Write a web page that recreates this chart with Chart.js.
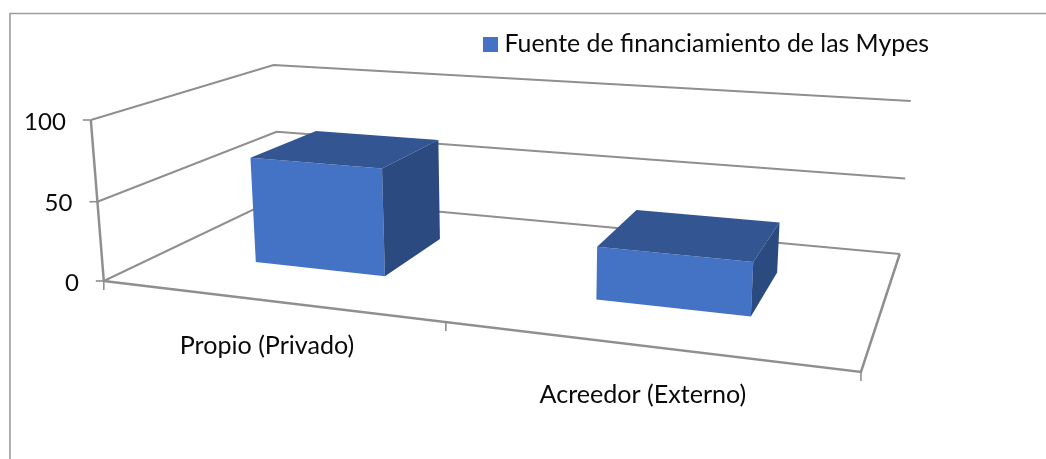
<!DOCTYPE html>
<html>
<head>
<meta charset="utf-8">
<style>html,body{margin:0;padding:0;background:#fff;overflow:hidden}canvas{display:block}</style>
<script src="https://cdn.jsdelivr.net/npm/chart.js@4/dist/chart.umd.min.js"></script>
</head>
<body>
<canvas id="c" width="1046" height="459"></canvas>
<script>
const categories = ["Propio (Privado)", "Acreedor (Externo)"];
const seriesName = "Fuente de financiamiento de las Mypes";
const values = [68, 32];
const yTickStep = 50;
const yMax = 100;

const FONT = "Lato";
const TEXT = "#0a0a0a";
const FRONT = "#4472C4";
const TOP = "#335693";
const SIDE = "#2A4A80";
const LINE = "#8f8f8f";
const FONT_SIZE = 25.1;
const LEGEND_SIZE = 24.85;
const DIGIT_SIZE = 24;

/* pinhole camera of the 3-D box: u across categories, v up the value axis, w into the depth */
const cam = {a:605.6,b:240.74,c:103.8,p:-15.7,d:25.51,e:-38.29,f:281,q:-164.6,g:-0.17604,h:0.23204,r:-0.03};
function proj(u,v,w){
  const D = 1 + cam.g*u + cam.h*w + cam.r*v;
  return [(cam.a*u + cam.b*w + cam.c + cam.p*v)/D, (cam.d*u + cam.e*w + cam.f + cam.q*v)/D];
}
function poly(ctx, pts, fill){
  ctx.beginPath();
  pts.forEach((p,i)=> i ? ctx.lineTo(p[0],p[1]) : ctx.moveTo(p[0],p[1]));
  ctx.closePath();
  ctx.fillStyle = fill; ctx.fill();
}
function path(ctx, pts, width){
  ctx.beginPath();
  pts.forEach((p,i)=> i ? ctx.lineTo(p[0],p[1]) : ctx.moveTo(p[0],p[1]));
  ctx.lineWidth = width; ctx.strokeStyle = LINE; ctx.stroke();
}

const swatch = document.createElement("canvas");
swatch.width = 15; swatch.height = 15;
const sw = swatch.getContext("2d"); sw.fillStyle = FRONT; sw.fillRect(0,0,15,15);

const box3d = {
  id:"box3d",
  beforeDatasetsDraw(chart){
    const ctx = chart.ctx, xS = chart.scales.x, yS = chart.scales.y;
    ctx.save();
    ctx.lineCap = "butt"; ctx.lineJoin = "miter";
    /* outer frame */
    ctx.strokeStyle = "#9c9c9c"; ctx.lineWidth = 1.6;
    ctx.beginPath(); ctx.moveTo(10,459); ctx.lineTo(10,13.5); ctx.lineTo(1046,13.5); ctx.stroke();
    /* gridlines on the two walls and value ticks */
    const vOf = val => (yS.bottom - yS.getPixelForValue(val))/(yS.bottom - yS.top);
    yS.ticks.forEach(t=>{
      const v = vOf(t.value);
      path(ctx,[proj(0,v,0),proj(0,v,1),proj(1,v,1)],2);
      const p = proj(0,v,0);
      path(ctx,[[p[0]-8,p[1]],p],1.6);
      ctx.fillStyle = TEXT; ctx.font = DIGIT_SIZE+"px "+FONT;
      ctx.textAlign = "right"; ctx.textBaseline = "middle";
      ctx.fillText(String(t.value), p[0]-25, p[1]+2);
    });
    /* floor and value axis */
    path(ctx,[proj(0,0,0),proj(1,0,0),proj(1,0,1)],2.5);
    path(ctx,[proj(0,1,0),proj(0,0,0)],2.5);
    /* category ticks and labels */
    const n = chart.data.labels.length;
    for(let i=0;i<=n;i++){
      const p = proj(i/n,0,0);
      path(ctx,[p,[p[0],p[1]+9]],1.6);
    }
    chart.data.labels.forEach((lab,i)=>{
      const u = (xS.getPixelForValue(i)-chart.chartArea.left)/chart.chartArea.width;
      const p = proj(u,0,0);
      const D = 1 + cam.g*u;
      ctx.fillStyle = TEXT; ctx.font = FONT_SIZE+"px "+FONT;
      ctx.textAlign = "center"; ctx.textBaseline = "middle";
      ctx.fillText(lab, p[0], p[1]+43/D);
    });
    ctx.restore();
  },
  beforeDatasetDraw(chart, args){
    const ctx = chart.ctx, area = chart.chartArea;
    const w0 = 0.30, w1 = 0.70;
    ctx.save();
    chart.getDatasetMeta(args.index).data.forEach(bar=>{
      const u0 = (bar.x - bar.width/2 - area.left)/area.width;
      const u1 = (bar.x + bar.width/2 - area.left)/area.width;
      const v = (area.bottom - bar.y)/area.height;
      poly(ctx,[proj(u0,v,w0),proj(u1,v,w0),proj(u1,0,w0),proj(u0,0,w0)],FRONT);
      poly(ctx,[proj(u0,v,w0),proj(u0,v,w1),proj(u1,v,w1),proj(u1,v,w0)],TOP);
      poly(ctx,[proj(u1,v,w0),proj(u1,v,w1),proj(u1,0,w1),proj(u1,0,w0)],SIDE);
    });
    ctx.restore();
    return false;
  }
};

new Chart(document.getElementById("c"),{
  type:"bar",
  data:{labels:categories,datasets:[{label:seriesName,data:values,backgroundColor:FRONT,categoryPercentage:0.4,barPercentage:1}]},
  options:{
    responsive:false,animation:false,
    layout:{padding:{left:90,right:107,top:22,bottom:80}},
    scales:{
      x:{display:false},
      y:{display:false,min:0,max:yMax,ticks:{stepSize:yTickStep}}
    },
    plugins:{
      tooltip:{enabled:false},
      legend:{
        display:true,position:"top",align:"end",
        labels:{font:{family:FONT,size:LEGEND_SIZE},color:TEXT,usePointStyle:true,pointStyle:swatch,pointStyleWidth:4,boxHeight:15,padding:10}
      }
    }
  },
  plugins:[box3d]
});
</script>
</body>
</html>
